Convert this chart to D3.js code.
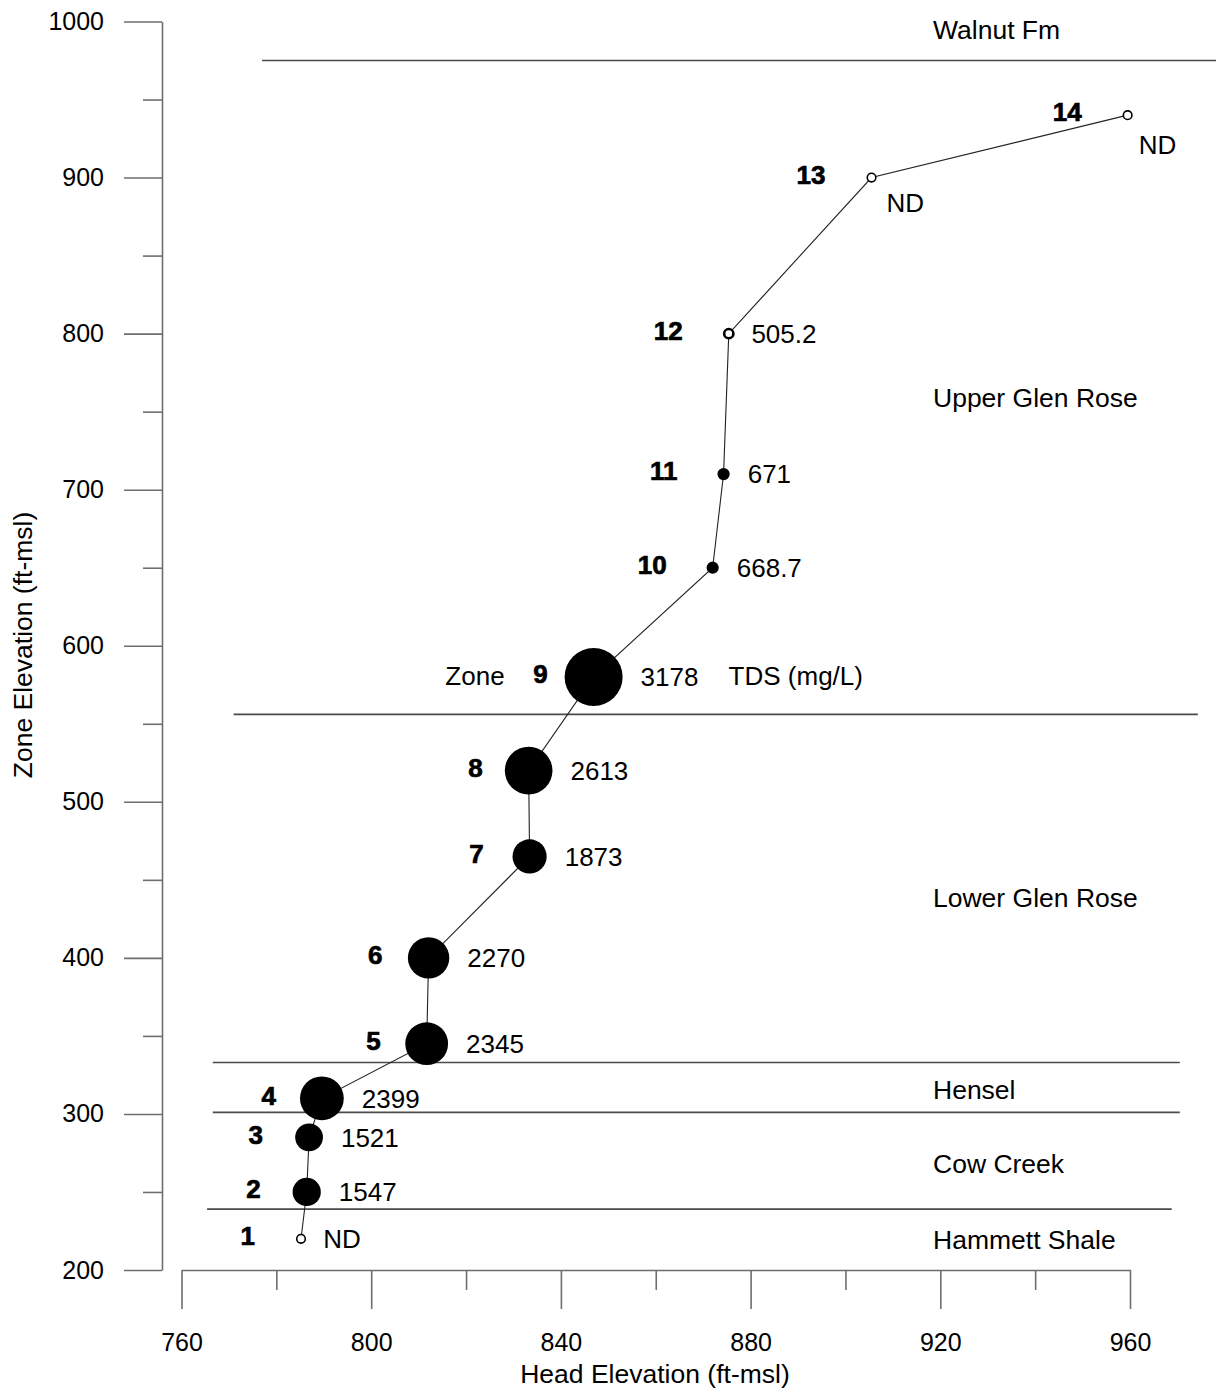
<!DOCTYPE html>
<html>
<head>
<meta charset="utf-8">
<script src="https://cdn.jsdelivr.net/npm/d3@7"></script>
<style>
  html, body { margin: 0; padding: 0; background: #fff; }
  svg { display: block; font-family: "Liberation Sans", Arial, sans-serif; }
</style>
</head>
<body>
<svg id="chart" width="1216" height="1388"></svg>
<script>
// ---- data ----
const zones = [1, 2, 3, 4, 5, 6, 7, 8, 9, 10, 11, 12, 13, 14];
const headElev = [785.2, 786.4, 786.9, 789.6, 811.7, 812.1, 833.4, 833.2, 846.9, 872.0, 874.3, 875.4, 905.5, 959.5];
const zoneElev = [220, 250, 285, 310, 345, 400, 465, 520, 580, 650, 710, 800, 900, 940];
const tds = [null, 1547, 1521, 2399, 2345, 2270, 1873, 2613, 3178, 668.7, 671, 505.2, null, null];
const tdsLabels = ["ND", "1547", "1521", "2399", "2345", "2270", "1873", "2613", "3178", "668.7", "671", "505.2", "ND", "ND"];

const boundaryElev = [975, 556, 333, 301, 239];
const boundaryFrom = [777, 771, 766.6, 766.6, 765.4];
const boundaryTo = [980, 974.3, 970.5, 970.5, 968.8];

const formationNames = ["Walnut Fm", "Upper Glen Rose", "Lower Glen Rose", "Hensel", "Cow Creek", "Hammett Shale"];
const formationLabelElev = [995, 759, 439, 316, 268, 219.6];

const xMajorTicks = [760, 800, 840, 880, 920, 960];
const xMinorTicks = [780, 820, 860, 900, 940];
const yMajorTicks = [200, 300, 400, 500, 600, 700, 800, 900, 1000];
const yMinorTicks = [250, 350, 450, 550, 650, 750, 850, 950];

// ---- scales ----
const svg = d3.select("#chart");
const x = d3.scaleLinear().domain([760, 960]).range([181.5, 1130]);
const y = d3.scaleLinear().domain([200, 1000]).range([1270, 21.5]);
const r = d3.scaleLinear().domain([0, 3178]).range([0, 29]);

const axisColor = "#6e6e6e";
const textSize = "26px";

// ---- axes ----
const yAxisG = svg.append("g").attr("transform", "translate(162,0)");
yAxisG.call(d3.axisLeft(y).tickValues(yMajorTicks).tickSize(38).tickSizeOuter(0).tickPadding(20).tickFormat(d3.format("d")));
const yMinorG = svg.append("g").attr("transform", "translate(162,0)");
yMinorG.call(d3.axisLeft(y).tickValues(yMinorTicks).tickSize(19).tickSizeOuter(0).tickFormat(""));
yMinorG.select(".domain").remove();

const xAxisG = svg.append("g").attr("transform", "translate(0,1270)");
xAxisG.call(d3.axisBottom(x).tickValues(xMajorTicks).tickSize(39).tickSizeOuter(0).tickPadding(24).tickFormat(d3.format("d")));
const xMinorG = svg.append("g").attr("transform", "translate(0,1270)");
xMinorG.call(d3.axisBottom(x).tickValues(xMinorTicks).tickSize(20).tickSizeOuter(0).tickFormat(""));
xMinorG.select(".domain").remove();

svg.selectAll(".domain, .tick line").attr("stroke", axisColor).attr("stroke-width", 1.6);
svg.selectAll(".tick text").attr("fill", "#000").style("font-size", "25px").style("font-family", "Liberation Sans, Arial, sans-serif");

// axis titles
svg.append("text")
  .attr("x", 655).attr("y", 1373).attr("dy", "0.36em")
  .attr("text-anchor", "middle")
  .style("font-size", "26.5px")
  .text("Head Elevation (ft-msl)");
svg.append("text")
  .attr("transform", "translate(22,645) rotate(-90)")
  .attr("dy", "0.36em")
  .attr("text-anchor", "middle")
  .style("font-size", "26.5px")
  .text("Zone Elevation (ft-msl)");

// ---- formation boundaries ----
svg.append("g").selectAll("line")
  .data(boundaryElev)
  .join("line")
  .attr("x1", (d, i) => x(boundaryFrom[i]))
  .attr("x2", (d, i) => x(boundaryTo[i]))
  .attr("y1", d => y(d))
  .attr("y2", d => y(d))
  .attr("stroke", "#4a4a4a")
  .attr("stroke-width", 1.6);

svg.append("g").selectAll("text")
  .data(formationNames)
  .join("text")
  .attr("x", 933)
  .attr("y", (d, i) => y(formationLabelElev[i]))
  .attr("dy", "0.36em")
  .style("font-size", "26.5px")
  .text(d => d);

// ---- profile line ----
const pts = zones.map((z, i) => ({ zone: z, hx: headElev[i], ey: zoneElev[i], tds: tds[i], label: tdsLabels[i] }));
svg.append("path")
  .datum(pts)
  .attr("fill", "none")
  .attr("stroke", "#222")
  .attr("stroke-width", 1.1)
  .attr("d", d3.line().x(d => x(d.hx)).y(d => y(d.ey)));

// ---- circles ----
function radius(d) {
  if (d.tds === null) return 4.3;
  return Math.max(4.3, r(d.tds));
}
svg.append("g").selectAll("circle")
  .data(pts)
  .join("circle")
  .attr("cx", d => x(d.hx))
  .attr("cy", d => y(d.ey))
  .attr("r", d => radius(d))
  .attr("fill", d => (d.tds === null ? "#fff" : (d.tds < 600 ? "#fff" : "#000")))
  .attr("stroke", "#000")
  .attr("stroke-width", d => (d.tds === null ? 1.6 : (d.tds < 600 ? 2.6 : 0)));

// ---- zone numbers ----
svg.append("g").selectAll("text")
  .data(pts)
  .join("text")
  .attr("x", d => x(d.hx) - 46)
  .attr("y", d => y(d.ey) - 3)
  .attr("dy", "0.36em")
  .attr("text-anchor", "end")
  .style("font-size", "26px")
  .style("font-weight", "bold")
  .attr("stroke", "#000")
  .attr("stroke-width", 0.7)
  .text(d => d.zone);

// ---- TDS labels ----
svg.append("g").selectAll("text")
  .data(pts)
  .join("text")
  .attr("x", d => {
    if (d.zone === 13) return x(d.hx) + 15;
    if (d.zone === 14) return x(d.hx) + 11;
    return x(d.hx) + radius(d) + 18;
  })
  .attr("y", d => {
    if (d.zone === 13) return y(d.ey) + 25;
    if (d.zone === 14) return y(d.ey) + 30;
    return y(d.ey);
  })
  .attr("dy", "0.36em")
  .style("font-size", textSize)
  .text(d => d.label);

// legend-ish annotation around zone 9
const p9 = pts[8];
svg.append("text")
  .attr("x", x(p9.hx) - 89)
  .attr("y", y(p9.ey) - 1)
  .attr("dy", "0.36em")
  .attr("text-anchor", "end")
  .style("font-size", textSize)
  .text("Zone");
svg.append("text")
  .attr("x", x(p9.hx) + 135)
  .attr("y", y(p9.ey) - 1)
  .attr("dy", "0.36em")
  .style("font-size", textSize)
  .text("TDS (mg/L)");
</script>
</body>
</html>
